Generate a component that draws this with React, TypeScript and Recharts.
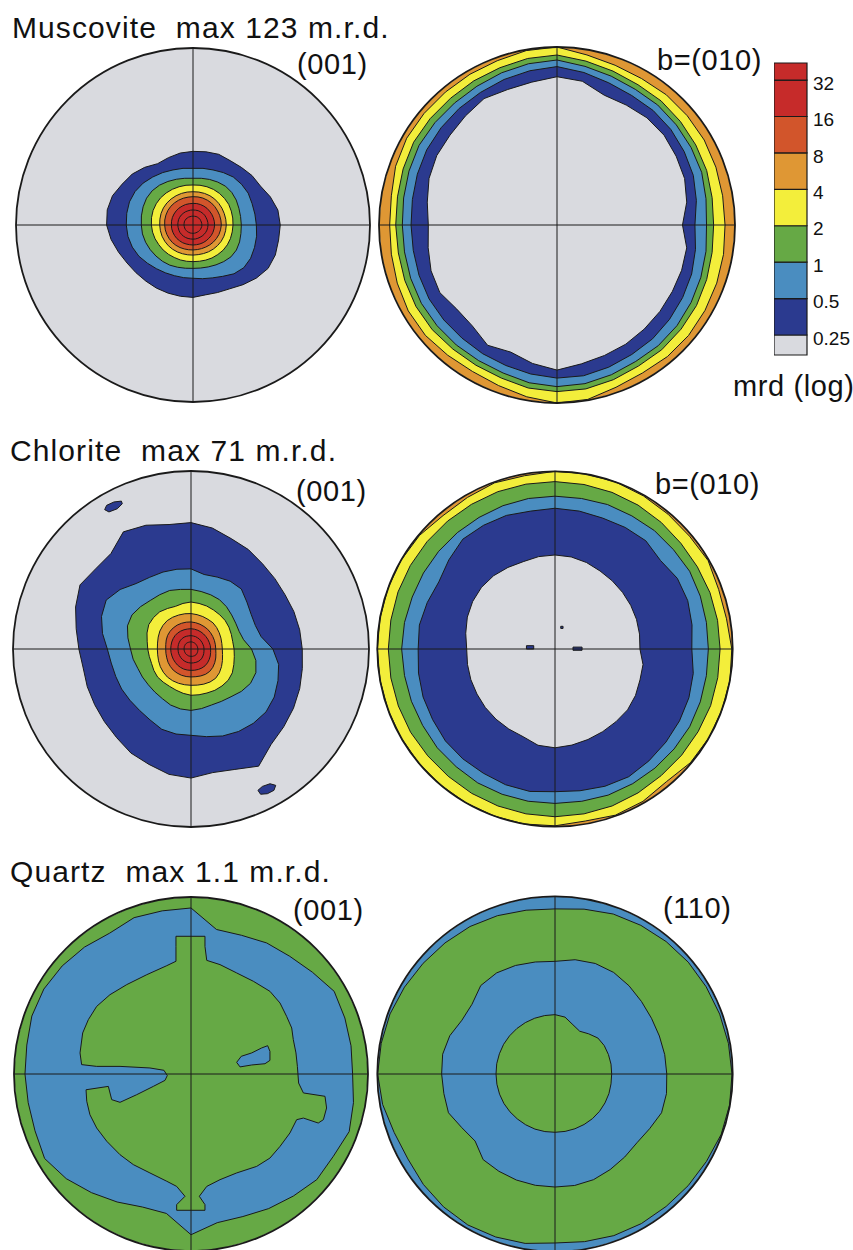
import React from "react";
import {
  RadarChart,
  Radar,
  PolarGrid,
  PolarAngleAxis,
  PolarRadiusAxis,
  ScatterChart,
  Scatter,
  XAxis,
  YAxis,
  BarChart,
  Bar,
} from "recharts";

// pole figures: contour radius (percent of the net radius) at each bearing, clockwise from top
const BEARINGS = [
  0, 10, 20, 30, 40, 50, 60, 70, 80, 90, 100, 110, 120, 130, 140, 150, 160, 170,
  180, 190, 200, 210, 220, 230, 240, 250, 260, 270, 280, 290, 300, 310, 320, 330, 340, 350,
];

// Muscovite (001)
const MUS001_025 = [41.6, 42, 42.5, 42, 42.5, 43.5, 44, 46.5, 48.7, 49.3, 49.1, 49.5, 49, 46.7, 44, 41.6, 40.6, 40.1, 40.9, 40.9, 41, 41.2, 41.4, 42, 43, 44.8, 47, 48.8, 49.2, 48.4, 46.2, 44.8, 42.5, 40, 40.5, 41.3];
const MUS001_05 = [32, 32.5, 33.1, 34.2, 35.4, 35.8, 36, 35.5, 35.5, 35.8, 36.5, 37, 37.6, 37.5, 36, 33.5, 31.8, 30.8, 30.1, 30.2, 30.5, 31.2, 32.2, 33.6, 35.3, 36.5, 37.3, 37.7, 38, 38.2, 37.8, 36.8, 35.4, 34.2, 33.1, 32.5];
const MUS001_1 = [26.4, 26.8, 27.4, 28, 28.6, 28.6, 28.2, 27.6, 27.3, 27.3, 27.5, 28, 28.3, 28, 27, 26, 25.2, 24.7, 24.5, 24.8, 25.4, 26.2, 26.8, 27.3, 27.9, 28.5, 29, 29.2, 29.6, 30, 30.3, 30.1, 29.4, 28.4, 27.5, 26.8];
const MUS001_2 = [22.6, 22.8, 23, 23.2, 23.3, 23.3, 23.3, 23, 22.8, 22.6, 22.5, 22.5, 22.4, 22.2, 21.8, 21.5, 21.1, 20.8, 20.7, 20.8, 21, 21.2, 21.6, 22, 22.3, 22.8, 23.2, 23.5, 23.8, 24, 24, 23.9, 23.6, 23.3, 23, 22.8];
const MUS001_4 = [18.8, 18.9, 19, 19.1, 19.1, 19, 18.9, 18.8, 18.8, 18.8, 18.7, 18.6, 18.4, 18.1, 17.8, 17.5, 17.2, 17, 17, 17.1, 17.3, 17.6, 17.9, 18.2, 18.4, 18.6, 18.7, 18.8, 19, 19.2, 19.3, 19.3, 19.2, 19.1, 19, 18.9];
const MUS001_8 = [16, 16.1, 16.2, 16.2, 16.2, 16.1, 16, 16, 16, 16, 15.8, 15.6, 15.3, 15, 14.7, 14.4, 14.2, 14.1, 14.1, 14.2, 14.4, 14.7, 15, 15.3, 15.5, 15.7, 15.9, 16, 16.2, 16.3, 16.4, 16.4, 16.3, 16.2, 16.1, 16];
const MUS001_16 = [12.2, 12.3, 12.3, 12.3, 12.3, 12.2, 12.2, 12.2, 12.2, 12.2, 12.1, 12, 11.9, 11.7, 11.6, 11.5, 11.4, 11.3, 11.3, 11.3, 11.4, 11.6, 11.7, 11.9, 12, 12.1, 12.2, 12.2, 12.3, 12.4, 12.4, 12.4, 12.4, 12.3, 12.3, 12.2];
const MUS001_32 = [8.5, 8.5, 8.6, 8.6, 8.6, 8.6, 8.5, 8.5, 8.5, 8.5, 8.4, 8.4, 8.3, 8.2, 8.1, 8, 8, 8, 8, 8, 8.1, 8.2, 8.3, 8.4, 8.5, 8.5, 8.5, 8.6, 8.6, 8.7, 8.7, 8.7, 8.6, 8.6, 8.5, 8.5];
const MUS001_64 = [5, 5, 5.1, 5.1, 5.1, 5.1, 5, 5, 5, 5, 5, 4.9, 4.9, 4.8, 4.8, 4.7, 4.7, 4.7, 4.7, 4.7, 4.8, 4.8, 4.9, 4.9, 5, 5, 5, 5.1, 5.1, 5.2, 5.2, 5.2, 5.1, 5.1, 5, 5];

// Muscovite b=(010)
const MUSB_4 = [100, 97, 95.5, 95, 95.5, 95.5, 95.5, 95, 94.5, 94.4, 95, 95.5, 96, 96.5, 96.5, 96, 97, 99.5, 100, 98, 96, 95, 95.5, 96.5, 96.5, 95.5, 94.5, 94, 94.5, 96.5, 97.5, 97.5, 97.5, 97.8, 98.2, 99.5];
const MUSB_2 = [95.5, 93.5, 92, 91, 91, 90.5, 90, 89.5, 88.5, 88, 88.5, 89.5, 90.5, 91, 91.5, 91.5, 92.5, 93.5, 93.6, 93, 91.5, 91, 91, 91.5, 91.5, 91, 90.5, 90.6, 91, 92, 93, 93, 93, 93.5, 94, 95];
const MUSB_1 = [92.7, 90.5, 89, 88, 88, 87.5, 87, 86.5, 85, 84, 85, 86, 87, 88, 88.5, 88.5, 89.5, 90.5, 90.8, 90, 88.5, 88, 88, 88, 88, 87.5, 87, 86.9, 87.5, 88.5, 89.5, 89.5, 89.5, 90, 91, 92];
const MUSB_05 = [89, 87, 85, 84, 84, 83.5, 82.5, 81.5, 79.5, 77.5, 79, 80.5, 81.5, 82.5, 83.5, 84, 85, 86, 86, 85, 84, 83.5, 83, 83, 83, 82.5, 82, 82, 82.5, 83.5, 84.5, 85, 85.5, 86, 87, 88];
const MUSB_025 = [83.3, 82, 77.6, 77.8, 78.6, 78.5, 77.3, 76.3, 74, 70.5, 74, 74.5, 74.8, 75.5, 76.3, 77.3, 78, 79.2, 81.5, 79, 76, 78, 74, 73.5, 76, 75.3, 73.5, 72.3, 74, 76.5, 78, 78.5, 80, 82, 81, 81.5];

// Chlorite (001)
const CHL001_025 = [71, 69, 66, 64.5, 62.5, 61.5, 61, 61.5, 62, 62.5, 63.5, 65, 66.5, 68, 70, 76, 72, 70.5, 72.5, 71.5, 69, 67.5, 65, 63.5, 62.5, 62, 61.5, 63, 65.5, 69, 72, 70, 70, 76, 74, 71];
const CHL001_05 = [45, 42.5, 43, 44, 44, 41, 39, 38.5, 40, 46, 50, 52, 54, 55, 54.5, 53.5, 52, 50, 48.5, 48.5, 48, 46, 45, 44.8, 45, 45, 45.5, 47, 50.5, 53.5, 55, 52, 48, 46.5, 46, 45.5];
const CHL001_1 = [33.5, 32.8, 32.4, 32, 31, 29.8, 29, 28.8, 30, 34, 37, 38.8, 38.6, 37, 35, 34, 33.5, 34, 34.5, 34.2, 33.5, 32.2, 31.6, 31.3, 31.5, 31.8, 33, 34, 36, 38, 38.3, 37, 35.6, 35.2, 35, 34];
const CHL001_2 = [26.4, 26, 25.7, 25.3, 25.1, 25, 24.6, 24.1, 23.8, 24.2, 24.7, 25.6, 26.8, 27.3, 27.1, 26.8, 26.3, 26.1, 26, 25.3, 24.6, 24.2, 24.3, 24.5, 24.1, 23.6, 23.8, 24.3, 25, 26.3, 27.4, 27.5, 27.3, 26.3, 25.5, 26];
const CHL001_4 = [19.9, 19.6, 19.4, 19.2, 19.2, 18.8, 18.3, 17.9, 17.6, 17.6, 18, 18.8, 19.8, 20.8, 21.5, 21.4, 21, 20.6, 20.4, 20.4, 20.5, 20.6, 20.6, 20.3, 19.9, 19.4, 19, 18.9, 19.1, 19.6, 20.2, 20.6, 20.8, 20.6, 20.3, 20.1];
const CHL001_8 = [15.2, 15, 14.8, 14.6, 14.5, 14.3, 14.1, 14, 13.9, 13.9, 14.2, 14.8, 15.4, 16, 16.4, 16.4, 16.1, 15.8, 15.7, 15.7, 15.7, 15.6, 15.5, 15.2, 14.9, 14.5, 14.3, 14.2, 14.4, 14.8, 15.2, 15.4, 15.5, 15.5, 15.4, 15.3];
const CHL001_16 = [11.4, 11.3, 11.2, 11.1, 11, 10.9, 10.9, 10.9, 11, 11, 11.2, 11.5, 11.8, 12.1, 12.3, 12.3, 12.2, 12.1, 12, 12, 12, 11.9, 11.8, 11.6, 11.5, 11.4, 11.4, 11.4, 11.4, 11.5, 11.6, 11.7, 11.7, 11.6, 11.5, 11.4];
const CHL001_32 = [7.5, 7.4, 7.4, 7.3, 7.3, 7.2, 7.2, 7.2, 7.3, 7.3, 7.4, 7.6, 7.8, 8, 8.1, 8.1, 8, 7.9, 7.9, 7.8, 7.8, 7.7, 7.6, 7.5, 7.4, 7.4, 7.3, 7.3, 7.4, 7.5, 7.6, 7.7, 7.7, 7.7, 7.6, 7.5];
const CHL001_64 = [4, 4, 3.9, 3.9, 3.9, 3.8, 3.8, 3.8, 3.8, 3.9, 3.9, 4, 4.1, 4.2, 4.3, 4.3, 4.2, 4.2, 4.1, 4.1, 4.1, 4, 4, 4, 3.9, 3.9, 3.9, 3.9, 3.9, 4, 4, 4.1, 4.1, 4.1, 4, 4];
// isolated 0.25 patches, x/y in percent of the net radius (y up)
const CHL001_ISLAND_A = [[-48.5, 78.3], [-47.4, 80.7], [-43.3, 82.6], [-39.1, 83.1], [-38.6, 81.6], [-41.4, 78.8], [-46.1, 77]];
const CHL001_ISLAND_B = [[37.6, -79.4], [40.1, -77.2], [44.4, -75.7], [47.6, -76.6], [46.6, -79.4], [42.9, -81.3], [39.1, -81.6]];

// Chlorite b=(010)
const CHLB_4 = [100, 100, 100, 99.5, 99, 98.8, 99.5, 98, 98, 99.5, 100, 100, 100, 99.5, 97.5, 99, 99.5, 98.3, 99.5, 100, 100, 100, 100, 100, 100, 100, 100, 100, 100, 100, 100, 99.5, 98, 98.5, 99.5, 99];
const CHLB_2 = [94.2, 94, 93.8, 93.5, 93, 92.5, 92.5, 92.8, 92.9, 92.9, 93, 93.2, 93, 93, 93, 93.5, 94, 94.2, 94.4, 94.2, 94, 93.8, 93.5, 93.5, 93.8, 93.8, 93.8, 93.8, 93.8, 94, 94, 94, 94, 94, 94.2, 94.2];
const CHLB_1 = [86, 86, 86.5, 86.5, 87, 87, 87.5, 87, 86.5, 86.3, 86.5, 87, 87.5, 87.5, 87.5, 87.5, 87.5, 87, 86.9, 87, 87, 87, 86.5, 86.5, 86, 86, 86, 86.3, 86, 85.5, 85.5, 85.5, 85.5, 85.5, 85.8, 86];
const CHLB_05 = [79.2, 78.8, 78.4, 79, 79.5, 77.5, 79.5, 79.5, 78.3, 77, 79, 80.2, 80.9, 81.5, 82.2, 83, 82.2, 81, 80.3, 81.4, 81.3, 80.7, 80.7, 80.5, 79.5, 79, 78, 77, 77.5, 76.5, 75.5, 78, 80.7, 80.4, 80, 78.8];
const CHLB_025 = [52.9, 52.6, 51.8, 50.7, 50.1, 49.6, 49.2, 48.8, 48.3, 47.8, 50.3, 50.9, 52.3, 53.3, 53.4, 53.7, 54.2, 54.9, 55.6, 55, 52.5, 52, 51.6, 51.2, 50.7, 50.4, 50, 49.7, 51, 52.5, 53.5, 54, 53.8, 53, 52.3, 52.8];
const CHLB_SPECK_A = [[-15.9, -0.2], [-11.8, -0.2], [-11.8, 1.7], [-15.9, 1.7]];
const CHLB_SPECK_B = [[10.3, -0.9], [15.4, -0.9], [15.4, 0.9], [10.3, 0.9]];
const CHLB_SPECK_C = [[3.4, 11.4], [4.7, 11.4], [4.7, 12.6], [3.4, 12.6]];

// Quartz (001)
const QTZ001_RING = [93.8, 82.9, 83.4, 85.5, 86.8, 89.5, 93.4, 92.5, 91.8, 91.3, 93.2, 95.1, 92.9, 92.8, 90, 87.8, 85.7, 85.3, 90.8, 80, 80, 83.5, 87.5, 92, 95.5, 93.8, 93.4, 93.8, 94.2, 95.7, 96, 95, 93.6, 91.9, 94, 93.6];
const QTZ001_CORE = [
  [-8.5, 77.8], [7.9, 77.8], [7.9, 72], [8.9, 64.2], [16.4, 61.8], [25.8, 57.1], [35.2, 52.4], [44.6, 46.7],
  [50.3, 40.1], [54, 32.6], [56.9, 26], [57.8, 19.4], [59.3, 11.9], [60.1, 4.3], [60.8, -5.1], [63.5, -10.7],
  [75.7, -12.6], [76.6, -19.2], [74.8, -25.8], [71.9, -27.7], [63.5, -24.9], [59.7, -25.8], [55.9, -33.3],
  [50.3, -40.9], [44.6, -47.5], [37.1, -52.2], [25.8, -55.9], [16.4, -59.7], [8.9, -63.5], [4.7, -69.1],
  [7.9, -73.8], [7.9, -77], [-8.1, -77], [-8.1, -73.8], [-3.4, -69.1], [-8.1, -63.5], [-13.7, -60.6],
  [-23.2, -55.9], [-32.6, -51.2], [-40.1, -45.6], [-47.6, -38], [-53.3, -30.5], [-57.1, -23], [-58.9, -15.4],
  [-59.3, -8.9], [-46.7, -7], [-44.8, -14.5], [-40.1, -16], [-30.7, -11.7], [-21.3, -7], [-14.7, -3.6],
  [-13.4, -0.9], [-15.3, 2.1], [-23.2, 3.4], [-40.1, 4.3], [-53.3, 4.3], [-61.8, 5.3], [-62.7, 11.9],
  [-61.2, 23.2], [-58, 30.7], [-53.3, 38.2], [-45.8, 44.8], [-36.3, 50.5], [-25, 56.1], [-13.7, 61.2],
  [-8.5, 63.7], [-8.5, 72.1],
];
const QTZ001_ISLAND = [[25.8, 6.6], [28.4, 10], [34.3, 11.9], [39.9, 14.7], [43.3, 16], [44.6, 12.8], [44.6, 7.7], [41.8, 5.8], [34.3, 5.1], [27.7, 4]];

// Quartz (110)
const QTZ110_OUTER = [92.9, 94.2, 95.8, 96.6, 97.3, 97.9, 98.2, 98.6, 99.1, 99.6, 99.8, 99.5, 98.4, 97.8, 97.3, 97.2, 96.8, 95.8, 95.1, 96.8, 97.6, 98.1, 97.6, 96.7, 95.6, 96.3, 98.5, 99.8, 99.3, 98.8, 97.8, 96.9, 96.3, 95.8, 94.8, 93.6];
const QTZ110_MIDDLE = [63.4, 65.3, 66.2, 66, 64.8, 63.5, 62.7, 62.5, 62.7, 62.9, 63.7, 63.8, 61.5, 60.2, 61, 62.1, 63.3, 63.7, 63.6, 63.6, 63.5, 63.2, 62.9, 58.7, 60.5, 63.8, 63.5, 63.8, 64.2, 63, 60.5, 61, 65, 65.7, 65, 64];
const QTZ110_INNER = [33.4, 32.5, 29.5, 27.8, 29.5, 31.5, 32, 32, 32, 31.9, 32, 32.3, 32.5, 32.7, 32.8, 32.8, 32.8, 32.8, 32.8, 32.9, 33, 33, 33, 33.1, 33.2, 33.2, 33.2, 33.2, 33.3, 33.3, 33.4, 33.4, 33.4, 33.4, 33.4, 33.4];

// colour scale
const LEVEL_LABELS = ["0.25", "0.5", "1", "2", "4", "8", "16", "32"];
const BAR_STEPS = [0.55, 1, 1, 1, 1, 1, 1, 1, 0.47];

const GREY = "#d9dadf";
const NAVY = "#2b3a8f";
const BLUE = "#4a8dc0";
const GREEN = "#66a945";
const YELLOW = "#f3ee3b";
const ORANGE = "#df9734";
const RED_ORANGE = "#d2552b";
const RED = "#c62b2a";
const LINE = "#1a1a1a";
const BAR_FILLS = [GREY, NAVY, BLUE, GREEN, YELLOW, ORANGE, RED_ORANGE, RED, RED];

const FONT = "'Liberation Sans', Arial, Helvetica, sans-serif";
const NO_MARGIN = { top: 0, right: 0, bottom: 0, left: 0 };

type Layer = { key: string; values: number[]; fill: string };
type Patch = { key: string; points: number[][]; fill: string };

function PoleFigure({ cx, cy, r, base, layers, patches = [] }: {
  cx: number; cy: number; r: number; base: string; layers: Layer[]; patches?: Patch[];
}) {
  const size = Math.ceil(2 * r + 6);
  const half = size / 2;
  const rows = BEARINGS.map((b, i) => {
    const row: Record<string, number> = { bearing: b, base: 100 };
    layers.forEach((l) => { row[l.key] = l.values[i]; });
    return row;
  });
  const box = { position: "absolute" as const, left: 0, top: 0 };
  return (
    <div style={{ position: "absolute", left: cx - half, top: cy - half, width: size, height: size }}>
      <div style={box}>
        <RadarChart width={size} height={size} data={rows} cx={half} cy={half} outerRadius={r} margin={NO_MARGIN}>
          <PolarAngleAxis dataKey="bearing" tick={false} axisLine={false} tickLine={false} />
          <PolarRadiusAxis domain={[0, 100]} tick={false} axisLine={false} tickLine={false} />
          <Radar dataKey="base" fill={base} fillOpacity={1} stroke="none" isAnimationActive={false} />
          {layers.map((l) => (
            <Radar key={l.key} dataKey={l.key} fill={l.fill} fillOpacity={1} stroke={LINE} strokeWidth={1} isAnimationActive={false} />
          ))}
        </RadarChart>
      </div>
      {patches.length > 0 && (
        <div style={{ position: "absolute", left: half - r, top: half - r }}>
          <ScatterChart width={2 * r} height={2 * r} margin={NO_MARGIN}>
            <XAxis type="number" dataKey="x" domain={[-100, 100]} hide />
            <YAxis type="number" dataKey="y" domain={[-100, 100]} hide />
            {patches.map((p) => (
              <Scatter
                key={p.key}
                data={[...p.points, p.points[0]].map(([x, y]) => ({ x, y }))}
                line={{ fill: p.fill, stroke: LINE, strokeWidth: 1 }}
                lineType="joint"
                shape={() => <g />}
                isAnimationActive={false}
              />
            ))}
          </ScatterChart>
        </div>
      )}
      <div style={box}>
        <RadarChart width={size} height={size} data={rows} cx={half} cy={half} outerRadius={r} margin={NO_MARGIN}>
          <PolarGrid gridType="circle" polarRadius={[]} polarAngles={[0, 90, 180, 270]} stroke={LINE} strokeWidth={1} />
          <PolarGrid gridType="circle" polarRadius={[r]} polarAngles={[]} radialLines={false} stroke={LINE} strokeWidth={1.8} />
        </RadarChart>
      </div>
    </div>
  );
}

function Txt({ x, y, size = 29, spacing = 0.6, children }: {
  x: number; y: number; size?: number; spacing?: number; children: React.ReactNode;
}) {
  return (
    <div style={{ position: "absolute", left: x, top: y, fontSize: size, lineHeight: 1, whiteSpace: "pre", fontFamily: FONT, color: "#111", letterSpacing: spacing }}>
      {children}
    </div>
  );
}

function ColourScale() {
  const row: Record<string, number | string> = { name: "mrd" };
  BAR_STEPS.forEach((s, i) => { row[`s${i}`] = s; });
  const ticks: number[] = [];
  BAR_STEPS.slice(0, -1).reduce((acc, s) => { ticks.push(acc + s); return acc + s; }, 0);
  const total = BAR_STEPS.reduce((a, b) => a + b, 0);
  const label = (v: number) => {
    const i = ticks.findIndex((t) => Math.abs(t - v) < 1e-6);
    return i >= 0 ? LEVEL_LABELS[i] : "";
  };
  const renderTick = (props: any) => (
    <text x={props.x} y={props.y + 3} dy="0.355em" textAnchor="start" fontSize={19} fill="#111" fontFamily={FONT}>
      {label(props.payload.value)}
    </text>
  );
  return (
    <div style={{ position: "absolute", left: 774, top: 61.7 }}>
      <BarChart width={92} height={294} data={[row]} margin={{ top: 1, right: 0, bottom: 1, left: 0 }} barCategoryGap={0}>
        <XAxis dataKey="name" hide />
        <YAxis
          orientation="right"
          type="number"
          domain={[0, total]}
          ticks={ticks}
          interval={0}
          width={59}
          axisLine={false}
          tickLine={false}
          tickSize={4}
          tickMargin={2}
          tick={renderTick}
        />
        {BAR_STEPS.map((_, i) => (
          <Bar key={i} dataKey={`s${i}`} stackId="a" fill={BAR_FILLS[i]} stroke={LINE} strokeWidth={1.2} isAnimationActive={false} />
        ))}
      </BarChart>
    </div>
  );
}

export default function App() {
  return (
    <div style={{ position: "absolute", left: 0, top: 0, width: 853, height: 1250, background: "#fff", overflow: "hidden" }}>
      <PoleFigure
        cx={193} cy={225} r={177} base={GREY}
        layers={[
          { key: "l025", values: MUS001_025, fill: NAVY },
          { key: "l05", values: MUS001_05, fill: BLUE },
          { key: "l1", values: MUS001_1, fill: GREEN },
          { key: "l2", values: MUS001_2, fill: YELLOW },
          { key: "l4", values: MUS001_4, fill: ORANGE },
          { key: "l8", values: MUS001_8, fill: RED_ORANGE },
          { key: "l16", values: MUS001_16, fill: RED },
          { key: "l32", values: MUS001_32, fill: RED },
          { key: "l64", values: MUS001_64, fill: RED },
        ]}
      />
      <PoleFigure
        cx={557} cy={225} r={178} base={ORANGE}
        layers={[
          { key: "l4", values: MUSB_4, fill: YELLOW },
          { key: "l2", values: MUSB_2, fill: GREEN },
          { key: "l1", values: MUSB_1, fill: BLUE },
          { key: "l05", values: MUSB_05, fill: NAVY },
          { key: "l025", values: MUSB_025, fill: GREY },
        ]}
      />
      <PoleFigure
        cx={190.5} cy={648.7} r={178} base={GREY}
        layers={[
          { key: "l025", values: CHL001_025, fill: NAVY },
          { key: "l05", values: CHL001_05, fill: BLUE },
          { key: "l1", values: CHL001_1, fill: GREEN },
          { key: "l2", values: CHL001_2, fill: YELLOW },
          { key: "l4", values: CHL001_4, fill: ORANGE },
          { key: "l8", values: CHL001_8, fill: RED_ORANGE },
          { key: "l16", values: CHL001_16, fill: RED },
          { key: "l32", values: CHL001_32, fill: RED },
          { key: "l64", values: CHL001_64, fill: RED },
        ]}
        patches={[
          { key: "a", points: CHL001_ISLAND_A, fill: NAVY },
          { key: "b", points: CHL001_ISLAND_B, fill: NAVY },
        ]}
      />
      <PoleFigure
        cx={555} cy={649.2} r={177.7} base={ORANGE}
        layers={[
          { key: "l4", values: CHLB_4, fill: YELLOW },
          { key: "l2", values: CHLB_2, fill: GREEN },
          { key: "l1", values: CHLB_1, fill: BLUE },
          { key: "l05", values: CHLB_05, fill: NAVY },
          { key: "l025", values: CHLB_025, fill: GREY },
        ]}
        patches={[
          { key: "a", points: CHLB_SPECK_A, fill: NAVY },
          { key: "b", points: CHLB_SPECK_B, fill: NAVY },
          { key: "c", points: CHLB_SPECK_C, fill: NAVY },
        ]}
      />
      <PoleFigure
        cx={191} cy={1074.3} r={177} base={GREEN}
        layers={[{ key: "ring", values: QTZ001_RING, fill: BLUE }]}
        patches={[
          { key: "core", points: QTZ001_CORE, fill: GREEN },
          { key: "island", points: QTZ001_ISLAND, fill: BLUE },
        ]}
      />
      <PoleFigure
        cx={555} cy={1074.3} r={177.7} base={BLUE}
        layers={[
          { key: "outer", values: QTZ110_OUTER, fill: GREEN },
          { key: "middle", values: QTZ110_MIDDLE, fill: BLUE },
          { key: "inner", values: QTZ110_INNER, fill: GREEN },
        ]}
      />

      <Txt x={12} y={13} size={30} spacing={1.1}>{"Muscovite  max 123 m.r.d."}</Txt>
      <Txt x={297} y={49.5}>(001)</Txt>
      <Txt x={657} y={45.5}>b=(010)</Txt>
      <Txt x={10} y={435.5} size={30} spacing={1.1}>{"Chlorite  max 71 m.r.d."}</Txt>
      <Txt x={296} y={477}>(001)</Txt>
      <Txt x={655} y={469.5}>b=(010)</Txt>
      <Txt x={10} y={856.5} size={30} spacing={1.1}>{"Quartz  max 1.1 m.r.d."}</Txt>
      <Txt x={293} y={896}>(001)</Txt>
      <Txt x={663} y={894}>(110)</Txt>

      <ColourScale />
      <Txt x={733} y={372}>mrd (log)</Txt>
    </div>
  );
}
